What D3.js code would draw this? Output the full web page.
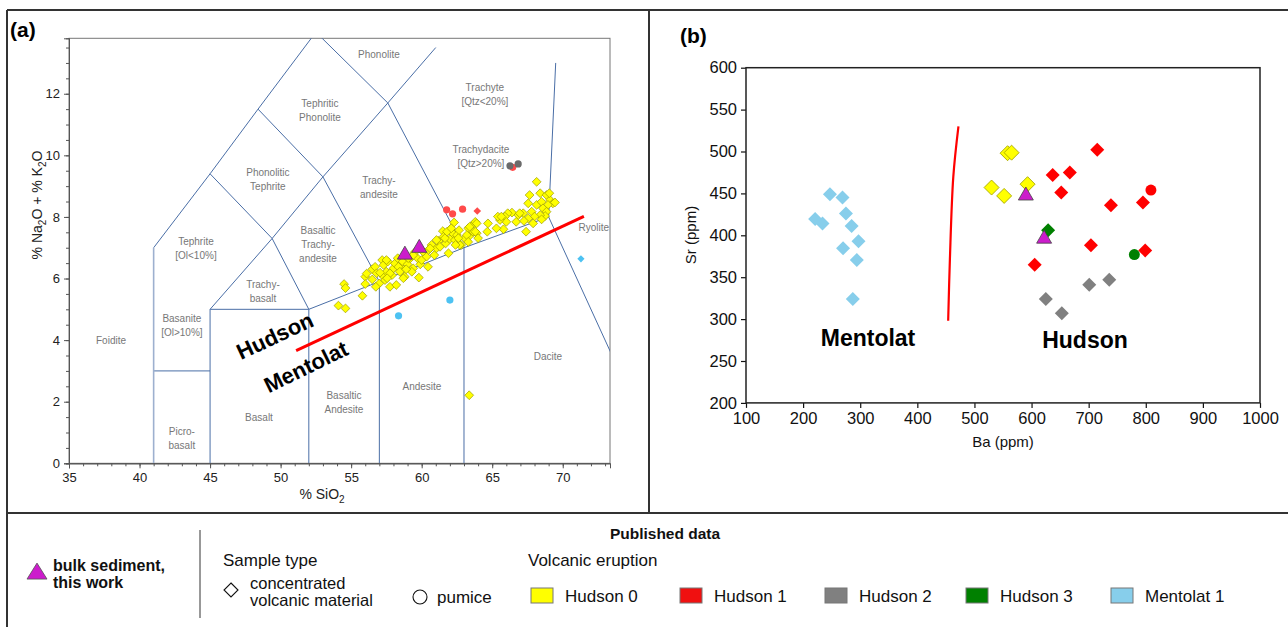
<!DOCTYPE html>
<html>
<head>
<meta charset="utf-8">
<script src="https://cdn.jsdelivr.net/npm/d3@7"></script>
<style>
  body { margin: 0; background: #fff; }
  svg { display: block; }
  text { font-family: Arial, "Liberation Sans", sans-serif; }
</style>
</head>
<body>
<svg id="fig" width="1288" height="627"></svg>
<script>
// ---------- Panel (a): TAS diagram data (SiO2 wt%, Na2O+K2O wt%) ----------
const tasHudson0 = [
  [54.5,5.82],[54.6,5.69],[54.1,5.12],[54.6,5.03],[55.8,5.44],[56.0,6.06],[56.1,6.16],[56.5,6.30],
  [56.5,5.97],[56.7,6.38],[56.8,6.17],[57.0,5.84],[57.2,6.60],[57.3,6.44],[57.3,6.06],[57.5,6.22],
  [57.6,6.55],[57.75,5.73],[57.9,6.11],[58.0,6.33],[58.1,6.49],[58.2,5.79],[58.3,6.66],[58.5,6.38],
  [58.65,6.55],[58.8,6.06],[59.0,6.46],[59.2,6.66],[59.4,6.33],[59.5,6.85],[59.7,6.66],[59.8,6.03],
  [59.9,6.46],[60.0,6.60],[60.1,6.87],[60.35,6.71],[60.5,6.93],[60.7,7.09],[60.9,6.76],[61.05,6.98],
  [61.2,7.22],[61.3,7.03],[61.5,7.54],[61.55,7.36],[61.7,7.14],[61.9,6.82],[62.0,7.28],[62.05,7.61],
  [62.2,7.47],[62.3,7.82],[62.35,7.25],[62.5,7.41],[62.65,7.57],[62.8,7.09],[63.05,7.31],[63.3,7.63],
  [63.4,7.39],[63.6,7.74],[63.8,7.84],[63.9,7.47],[64.0,7.31],
  [57.5,6.60],[58.35,6.38],[59.05,6.66],[59.4,6.76],[60.6,6.98],[61.05,7.25],[61.65,7.31],[61.8,7.52],
  [62.1,7.63],[62.7,7.09],[63.2,7.41],[58.45,6.22],[57.75,6.17],[57.4,5.95],[59.3,6.22],[60.45,6.38],
  [56.0,5.82],[56.75,5.73],[57.05,6.19],[57.55,6.01],[58.7,6.01],[58.9,6.30],[62.4,7.09],[62.6,7.31],
  [63.3,7.19],[63.65,7.52],[64.65,7.52],
  [68.15,9.14],[68.4,8.77],[67.55,8.44],[67.8,8.17],[68.15,8.39],[68.5,8.49],[68.85,8.71],[69.1,8.55],
  [69.3,8.44],[68.95,8.39],[68.6,8.28],[68.85,8.17],[68.75,8.03],[68.4,8.06],[68.0,8.01],[68.5,7.92],
  [67.9,7.79],[67.55,7.95],[67.2,8.12],[66.85,8.06],[66.7,7.84],[66.4,8.14],[66.1,8.12],[65.9,8.01],
  [66.0,7.84],[65.8,7.60],[65.55,7.90],[65.4,8.01],[65.3,7.63],[64.7,7.79],[63.9,7.79],[63.8,7.52],
  [63.4,7.68],[67.65,8.71],[69.05,8.77],[69.45,8.47],[67.4,7.52],[66.95,8.12],[67.25,7.87],[65.65,8.01],
  [63.37,2.21]
];
const tasHudson1Pumice = [[61.77,8.23],[62.19,8.10],[62.90,8.25],[66.45,9.61]];
const tasHudson1Conc   = [[63.94,8.19]];
const tasHudson2Pumice = [[66.26,9.66],[66.84,9.72]];
const tasMentolat1Pumice = [[58.36,4.79],[62.0,5.30]];
const tasMentolat1Conc   = [[71.29,6.64]];
const tasBulkSediment    = [[58.81,6.79],[59.83,7.01]];
// Hudson / Mentolat discrimination line
const tasDivide = [[51.1,3.66],[71.5,8.02]];

// TAS field boundaries (Le Bas et al., 1986)
const tasBoundaries = [
  [[41,7],[45,9.4],[48.4,11.5],[52.5,14]],
  [[41,3],[45,3]],
  [[45,0],[45,5],[49.4,7.3],[53,9.3],[57.6,11.7],[61,13.5]],
  [[45,5],[52,5],[57,5.9],[63,7],[69,8],[69.5,13]],
  [[69,8],[77,0]],
  [[52,0],[52,5],[49.4,7.3],[45,9.4]],
  [[57,0],[57,5.9],[53,9.3],[48.4,11.5]],
  [[63,0],[63,7],[57.6,11.7],[52.5,14]]
];
const tasFoiditeEdge = [[41,0],[41,7]];

// Field names and their anchor (SiO2, alkali)
const tasFields = [
  {name:["Phonolite"], at:[56.97,13.29]},
  {name:["Tephritic","Phonolite"], at:[52.79,11.47]},
  {name:["Trachyte","[Qtz<20%]"], at:[64.48,11.96]},
  {name:["Trachydacite","[Qtz>20%]"], at:[64.2,9.97]},
  {name:["Phonolitic","Tephrite"], at:[49.1,9.2]},
  {name:["Trachy-","andesite"], at:[56.97,8.95]},
  {name:["Basaltic","Trachy-","andesite"], at:[52.65,7.12]},
  {name:["Tephrite","[Ol<10%]"], at:[44.0,6.96]},
  {name:["Trachy-","basalt"], at:[48.75,5.57]},
  {name:["Basanite","[Ol>10%]"], at:[43.0,4.47]},
  {name:["Foidite"], at:[37.98,4.0]},
  {name:["Picro-","basalt"], at:[43.0,0.81]},
  {name:["Basalt"], at:[48.47,1.5]},
  {name:["Basaltic","Andesite"], at:[54.49,1.97]},
  {name:["Andesite"], at:[60.02,2.48]},
  {name:["Dacite"], at:[68.95,3.48]},
  {name:["Ryolite"], at:[72.2,7.67]}
];

// ---------- Panel (b): Ba vs Sr (ppm) ----------
const baSrMentolat1 = [[247,449],[269,445],[221,419.5],[234,414],[275,426],[285,411],[297,393],[270,384.5],[294,370.5],[287,324]];
const baSrHudson0   = [[558,498],[565,498.6],[530,457],[552,447],[593,461]];
const baSrHudson1   = [[715,502],[637,472],[667,475],[652,451],[739,436],[795,439],[704,388],[799,382],[605.5,365]];
const baSrHudson1Pumice = [[809,454]];
const baSrHudson2   = [[625,324],[653,307],[701,341],[736,347]];
const baSrHudson3   = [[629,406]];
const baSrHudson3Pumice = [[780,377]];
const baSrBulkSediment  = [[590,448],[622,396.5]];
const baSrDivide = [[472,530],[463,470],[457,371],[454,298]];

// Axis tick values
const tasXTicks = [35,40,45,50,55,60,65,70];
const tasYTicks = [0,2,4,6,8,10,12];
const baTicks = [100,200,300,400,500,600,700,800,900,1000];
const srTicks = [200,250,300,350,400,450,500,550,600];

// Legend entries
const eruptions = ["Hudson 0","Hudson 1","Hudson 2","Hudson 3","Mentolat 1"];
const eruptionColors = ["#ffff00","#f01010","#808080","#008000","#87ceeb"];

// ---------------------------------------------------------------
const svg = d3.select("#fig");
const diamond = r => `M0,${-r}L${r},0L0,${r}L${-r},0Z`;
const triangle = (w,h) => `M0,${-h*0.62}L${w/2},${h*0.38}L${-w/2},${h*0.38}Z`;

// Figure frame
const frame = svg.append("g").attr("stroke","#333").attr("stroke-width",2);
frame.append("line").attr("x1",7).attr("x2",1288).attr("y1",10).attr("y2",10);
frame.append("line").attr("x1",7).attr("x2",7).attr("y1",10).attr("y2",627);
frame.append("line").attr("x1",649).attr("x2",649).attr("y1",10).attr("y2",513);
frame.append("line").attr("x1",7).attr("x2",1288).attr("y1",513).attr("y2",513);

// ================= Panel (a) =================
const xA = d3.scaleLinear().domain([35,73.35]).range([69,610]);
const yA = d3.scaleLinear().domain([0,13.8]).range([463.3,38.3]);
const gA = svg.append("g");

svg.append("text").attr("x",10).attr("y",37).attr("font-size",21).attr("font-weight","bold").text("(a)");

gA.append("defs").append("clipPath").attr("id","clipA")
  .append("rect").attr("x",69).attr("y",38.3).attr("width",541).attr("height",425);

gA.append("rect").attr("x",69).attr("y",38.3).attr("width",541).attr("height",425)
  .attr("fill","none").attr("stroke","#777").attr("stroke-width",1);

const lineA = d3.line().x(d=>xA(d[0])).y(d=>yA(d[1]));
const bounds = gA.append("g").attr("clip-path","url(#clipA)").attr("fill","none");
bounds.selectAll("path.b").data(tasBoundaries).join("path").attr("class","b")
  .attr("d",lineA).attr("stroke","#4a6ea6").attr("stroke-width",1);
bounds.append("path").datum(tasFoiditeEdge).attr("d",lineA)
  .attr("stroke","#9db0cf").attr("stroke-width",1.6);

// field labels
const fl = gA.append("g").attr("fill","#777").attr("font-size",10).attr("text-anchor","middle");
tasFields.forEach(f=>{
  const n = f.name.length;
  f.name.forEach((s,i)=>{
    fl.append("text").attr("x",xA(f.at[0])).attr("y",yA(f.at[1]) + (i-(n-1)/2)*14 + 3.5).text(s);
  });
});

// axes
const axA = gA.append("g");
axA.append("g").attr("transform","translate(69,0)")
  .call(d3.axisLeft(yA).tickValues(d3.range(0,13.51,0.5)).tickSize(3).tickFormat(""));
axA.append("g").attr("transform","translate(69,0)")
  .call(d3.axisLeft(yA).tickValues(tasYTicks).tickSize(5).tickPadding(4));
axA.append("g").attr("transform","translate(0,463.3)")
  .call(d3.axisBottom(xA).tickValues(d3.range(35,73.1,1)).tickSize(3).tickFormat(""));
axA.append("g").attr("transform","translate(0,463.3)")
  .call(d3.axisBottom(xA).tickValues(tasXTicks).tickSize(5).tickPadding(4));
axA.selectAll(".domain").attr("stroke","#555");
axA.selectAll(".tick line").attr("stroke","#555");
axA.selectAll(".tick text").attr("font-size",13).attr("fill","#222").attr("font-family","Arial, 'Liberation Sans', sans-serif");

const xt = gA.append("text").attr("x",322).attr("y",499).attr("font-size",14).attr("text-anchor","middle").attr("fill","#222");
xt.append("tspan").text("% SiO");
xt.append("tspan").attr("font-size",10).attr("dy",4).text("2");
const yt = gA.append("text").attr("transform","translate(42,205) rotate(-90)").attr("font-size",14).attr("text-anchor","middle").attr("fill","#222");
yt.append("tspan").text("% Na");
yt.append("tspan").attr("font-size",10).attr("dy",4).text("2");
yt.append("tspan").attr("dy",-4).text("O + % K");
yt.append("tspan").attr("font-size",10).attr("dy",4).text("2");
yt.append("tspan").attr("dy",-4).text("O");

// data
const ptsA = gA.append("g").attr("clip-path","url(#clipA)");
ptsA.selectAll("path.h0").data(tasHudson0).join("path").attr("class","h0")
  .attr("transform",d=>`translate(${xA(d[0])},${yA(d[1])})`).attr("d",diamond(4.4))
  .attr("fill","#ffff00").attr("stroke","#9c9c00").attr("stroke-width",0.7);
ptsA.selectAll("circle.h1").data(tasHudson1Pumice).join("circle").attr("class","h1")
  .attr("cx",d=>xA(d[0])).attr("cy",d=>yA(d[1])).attr("r",3.6).attr("fill","#ff4a4a");
ptsA.selectAll("path.h1c").data(tasHudson1Conc).join("path").attr("class","h1c")
  .attr("transform",d=>`translate(${xA(d[0])},${yA(d[1])})`).attr("d",diamond(3.8)).attr("fill","#ff4a4a");
ptsA.selectAll("circle.h2").data(tasHudson2Pumice).join("circle").attr("class","h2")
  .attr("cx",d=>xA(d[0])).attr("cy",d=>yA(d[1])).attr("r",3.6).attr("fill","#6b6b6b");
ptsA.selectAll("circle.m1").data(tasMentolat1Pumice).join("circle").attr("class","m1")
  .attr("cx",d=>xA(d[0])).attr("cy",d=>yA(d[1])).attr("r",3.6).attr("fill","#4dc2f2");
ptsA.selectAll("path.m1c").data(tasMentolat1Conc).join("path").attr("class","m1c")
  .attr("transform",d=>`translate(${xA(d[0])},${yA(d[1])})`).attr("d",diamond(3.6)).attr("fill","#4dc2f2");
ptsA.append("path").datum(tasDivide).attr("d",lineA).attr("fill","none").attr("stroke","#ff0000").attr("stroke-width",3);
ptsA.selectAll("path.bs").data(tasBulkSediment).join("path").attr("class","bs")
  .attr("transform",d=>`translate(${xA(d[0])},${yA(d[1])})`).attr("d",triangle(15,13))
  .attr("fill","#cc1ccc").attr("stroke","#444").attr("stroke-width",0.8);

gA.append("text").attr("transform","translate(275,336) rotate(-25)").attr("font-size",22).attr("font-weight","bold")
  .attr("text-anchor","middle").attr("dominant-baseline","central").text("Hudson");
gA.append("text").attr("transform","translate(306,367) rotate(-26)").attr("font-size",22).attr("font-weight","bold")
  .attr("text-anchor","middle").attr("dominant-baseline","central").text("Mentolat");

// ================= Panel (b) =================
const xB = d3.scaleLinear().domain([100,1000]).range([746,1260]);
const yB = d3.scaleLinear().domain([200,600]).range([402.9,67.7]);
const gB = svg.append("g");
const dv = "'DejaVu Sans', sans-serif";

svg.append("text").attr("x",680).attr("y",43).attr("font-size",21).attr("font-weight","bold").text("(b)");

const axB = gB.append("g").attr("font-family",dv);
axB.append("g").attr("transform","translate(746,0)")
  .call(d3.axisLeft(yB).tickValues(srTicks).tickSize(5).tickPadding(4).tickFormat(d3.format("d")));
axB.append("g").attr("transform","translate(0,402.9)")
  .call(d3.axisBottom(xB).tickValues(baTicks).tickSize(5).tickPadding(4).tickFormat(d3.format("d")));
axB.selectAll(".tick text").attr("font-size",16.5).attr("font-family",dv).attr("fill","#111");
axB.selectAll(".tick line").attr("stroke","#111").attr("stroke-width",1.2);
axB.selectAll(".domain").attr("stroke","none");
gB.append("rect").attr("x",746).attr("y",67.7).attr("width",514).attr("height",335.2)
  .attr("fill","none").attr("stroke","#222").attr("stroke-width",1.5);

gB.append("text").attr("x",1003).attr("y",447).attr("font-size",15).attr("font-family",dv)
  .attr("text-anchor","middle").attr("fill","#111").text("Ba (ppm)");
gB.append("text").attr("transform","translate(696,235) rotate(-90)").attr("font-size",15).attr("font-family",dv)
  .attr("text-anchor","middle").attr("fill","#111").text("Sr (ppm)");

const lineB = d3.line().x(d=>xB(d[0])).y(d=>yB(d[1])).curve(d3.curveCatmullRom);
gB.append("path").datum(baSrDivide).attr("d",lineB).attr("fill","none").attr("stroke","#ff0000").attr("stroke-width",2.2);

const ptsB = gB.append("g");
const dia = (cls, data, r, fill, stroke) => ptsB.selectAll("path."+cls).data(data).join("path").attr("class",cls)
  .attr("transform",d=>`translate(${xB(d[0])},${yB(d[1])})`).attr("d",diamond(r))
  .attr("fill",fill).attr("stroke",stroke||"none").attr("stroke-width",stroke?0.9:0);
dia("m1", baSrMentolat1, 7, "#87ceeb");
dia("h1", baSrHudson1, 7, "#ff0000");
dia("h2", baSrHudson2, 7, "#808080");
dia("h3", baSrHudson3, 7, "#008000");
dia("h0", baSrHudson0, 7.5, "#ffff00", "#a8a800");
ptsB.selectAll("circle.h1p").data(baSrHudson1Pumice).join("circle").attr("class","h1p")
  .attr("cx",d=>xB(d[0])).attr("cy",d=>yB(d[1])).attr("r",5.5).attr("fill","#ff0000");
ptsB.selectAll("circle.h3p").data(baSrHudson3Pumice).join("circle").attr("class","h3p")
  .attr("cx",d=>xB(d[0])).attr("cy",d=>yB(d[1])).attr("r",5.5).attr("fill","#008000");
ptsB.selectAll("path.bs").data(baSrBulkSediment).join("path").attr("class","bs")
  .attr("transform",d=>`translate(${xB(d[0])},${yB(d[1])})`).attr("d",triangle(15,13))
  .attr("fill","#cc1ccc").attr("stroke","#444").attr("stroke-width",0.8);

gB.append("text").attr("x",868).attr("y",346).attr("font-size",23).attr("font-weight","bold")
  .attr("text-anchor","middle").text("Mentolat");
gB.append("text").attr("x",1085).attr("y",348).attr("font-size",23).attr("font-weight","bold")
  .attr("text-anchor","middle").text("Hudson");

// ================= Legend =================
const lg = svg.append("g").attr("fill","#111");
lg.append("path").attr("transform","translate(37,573)").attr("d",triangle(20,16))
  .attr("fill","#cc1ccc").attr("stroke","#555").attr("stroke-width",0.8);
lg.append("text").attr("x",53).attr("y",571).attr("font-size",16).attr("font-weight","bold").text("bulk sediment,");
lg.append("text").attr("x",53).attr("y",588).attr("font-size",16).attr("font-weight","bold").text("this work");
lg.append("line").attr("x1",200).attr("x2",200).attr("y1",530).attr("y2",618).attr("stroke","#333").attr("stroke-width",1);

lg.append("text").attr("x",665).attr("y",539).attr("font-size",15.5).attr("font-weight","bold").attr("text-anchor","middle").text("Published data");
lg.append("text").attr("x",223).attr("y",566).attr("font-size",17).text("Sample type");
lg.append("path").attr("transform","translate(231,590)").attr("d",diamond(7)).attr("fill","none").attr("stroke","#111").attr("stroke-width",1.1);
lg.append("text").attr("x",250).attr("y",589).attr("font-size",16.5).text("concentrated");
lg.append("text").attr("x",250).attr("y",606).attr("font-size",16.5).text("volcanic material");
lg.append("circle").attr("cx",420).attr("cy",597).attr("r",7).attr("fill","none").attr("stroke","#111").attr("stroke-width",1.1);
lg.append("text").attr("x",437).attr("y",603).attr("font-size",17).text("pumice");
lg.append("text").attr("x",528).attr("y",566).attr("font-size",17).text("Volcanic eruption");

const swatchX = [531,680,825,966,1111];
eruptions.forEach((name,i)=>{
  lg.append("rect").attr("x",swatchX[i]).attr("y",588).attr("width",22).attr("height",15)
    .attr("fill",eruptionColors[i]).attr("stroke","#777").attr("stroke-width",1);
  lg.append("text").attr("x",swatchX[i]+34).attr("y",602).attr("font-size",17).text(name);
});
</script>
</body>
</html>
